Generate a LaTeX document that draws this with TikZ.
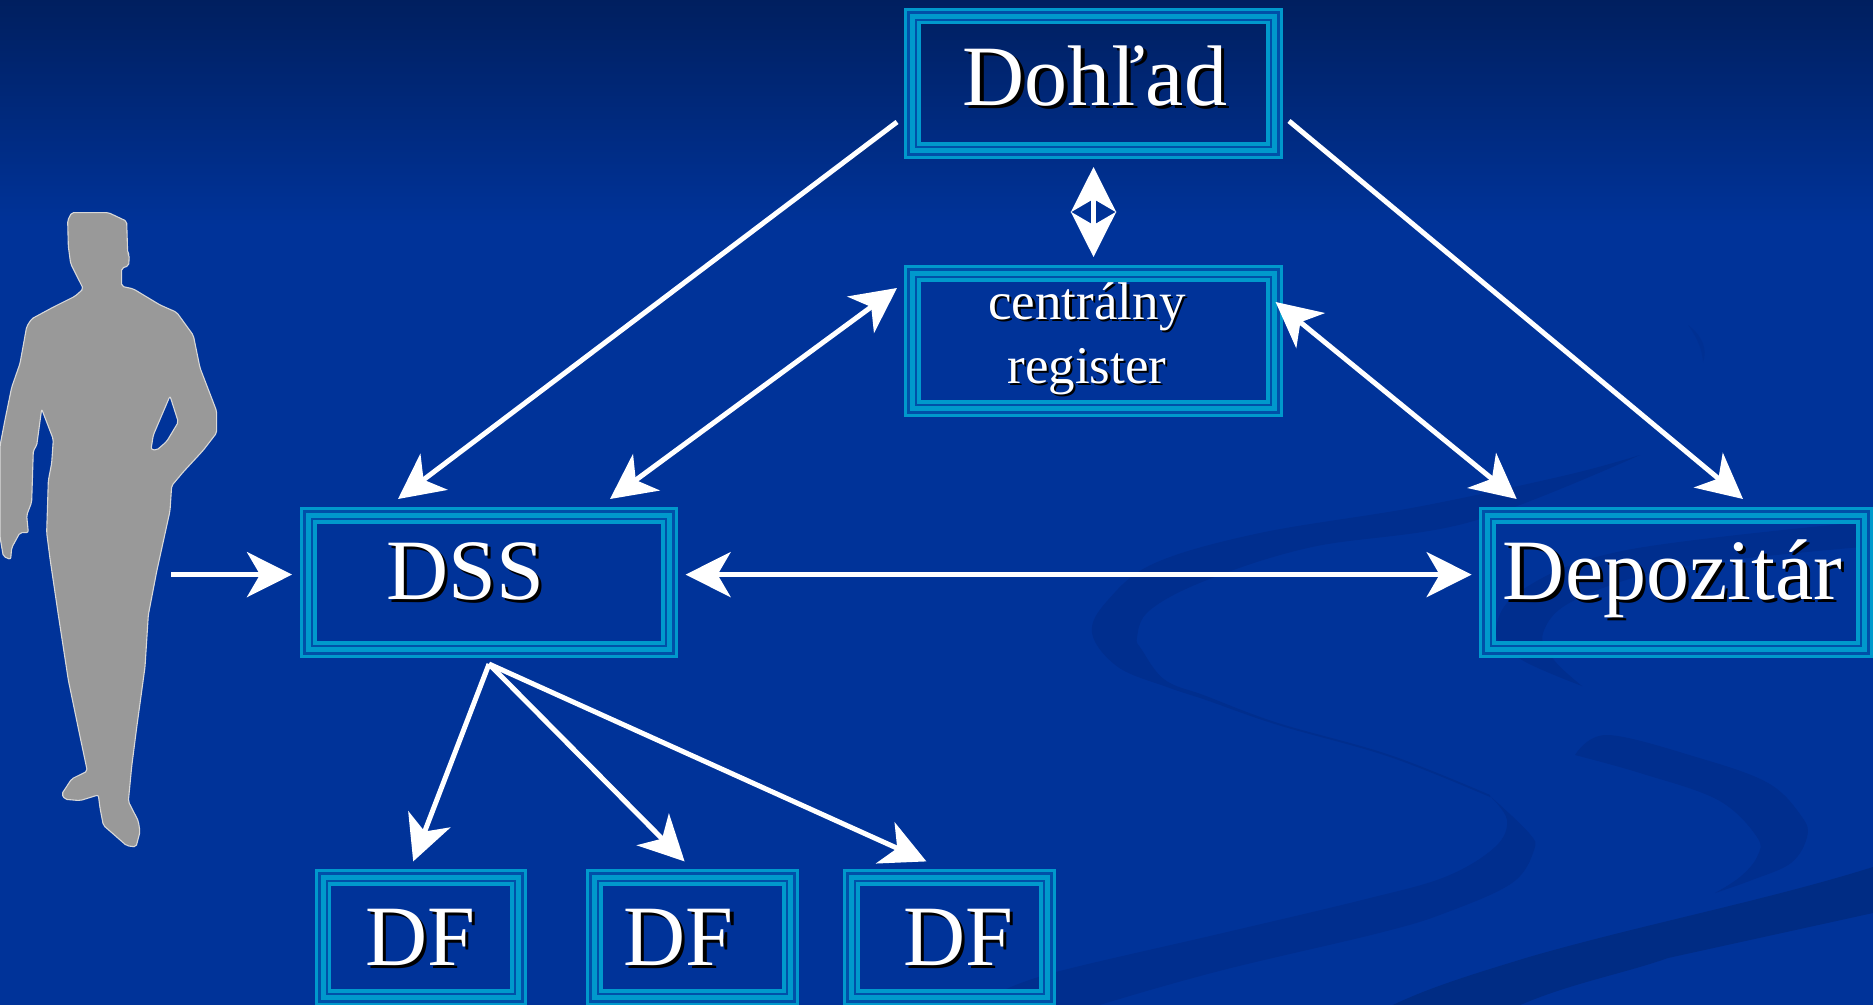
\documentclass[tikz,border=0pt]{standalone}
\usepackage{fontspec}
\setmainfont{Liberation Serif}
\usetikzlibrary{arrows.meta}
\definecolor{bgblue}{HTML}{003399}
\definecolor{bgtop}{HTML}{001F5F}
\definecolor{swoosh}{HTML}{002E8E}
\definecolor{swooshdark}{HTML}{002C84}
\definecolor{framecyan}{HTML}{0099CC}
\definecolor{framegap}{HTML}{0050A8}
\definecolor{persongrey}{HTML}{999999}
\definecolor{personedge}{HTML}{D8D8D8}
\newcommand\shtext[1]{\makebox[0pt][l]{\hspace{.04em}\raisebox{-.04em}{\textcolor{black}{#1}}}#1}
\newcommand\tribox[5]{%
  \node[boxnode,minimum width=#4pt,minimum height=#5pt] (#1) at (#2,#3) {};
  \draw[framegap,line width=16pt] ([xshift=8pt,yshift=8pt]#1.south west) rectangle ([xshift=-8pt,yshift=-8pt]#1.north east);
  \draw[framecyan,line width=3pt] ([xshift=1.5pt,yshift=1.5pt]#1.south west) rectangle ([xshift=-1.5pt,yshift=-1.5pt]#1.north east);
  \draw[framecyan,line width=5pt] ([xshift=8.5pt,yshift=8.5pt]#1.south west) rectangle ([xshift=-8.5pt,yshift=-8.5pt]#1.north east);
  \draw[framecyan,line width=3.4pt] ([xshift=15pt,yshift=15pt]#1.south west) rectangle ([xshift=-15pt,yshift=-15pt]#1.north east);
}
\tikzset{
  boxnode/.style={rectangle,draw=none,inner sep=0pt,outer sep=0pt},
  bigtext/.style={text=white,inner sep=0pt,anchor=base,font=\fontsize{86}{90}\selectfont},
  smalltext/.style={text=white,inner sep=0pt,align=center,font=\fontsize{53}{64}\selectfont},
  head/.tip={Stealth[length=45pt,width=45pt,inset=13pt]},
  conn/.style={draw=white,line width=5pt,-head},
  biconn/.style={draw=white,line width=5pt,head-head},
  swooshfill/.style={fill=swoosh,draw=none},
  person/.style={fill=persongrey,draw=personedge,line width=1.1pt,line join=round,even odd rule,rounded corners=2pt}
}
\begin{document}
\begin{tikzpicture}[x=1pt,y=-1pt]
\useasboundingbox (0,0) rectangle (1873,1004);
\clip (-5,-5) rectangle (1878,1012);
% background
\fill[bgblue] (-5,-5) rectangle (1878,1012);
\shade[top color=bgtop,bottom color=bgblue,draw=none] (-5,0) rectangle (1878,225);
% swooshes
\fill[swooshfill] plot[smooth,tension=.6] coordinates {(1640,455) (1567,475) (1417,507) (1260,533) (1155,563) (1108,600) (1092,633) (1118,667) (1167,687) (1206,700) (1278,725) (1390,757) (1490,797)}
  -- plot[smooth,tension=.6] coordinates {(1490,795) (1390,755) (1278,723) (1206,696) (1165,680) (1142,650) (1137,637) (1150,610) (1207,580) (1312,547) (1470,522) (1640,455)} -- cycle;
\fill[swooshfill] plot[smooth,tension=.6] coordinates {(1490,796) (1529,833) (1534,850) (1512,883) (1445,913) (1379,933) (1223,970) (1106,1003) (1070,1016)}
  -- plot[smooth,tension=.6] coordinates {(1000,992) (1056,972) (1223,933) (1362,900) (1445,877) (1495,847) (1507,820) (1490,796)} -- cycle;
\fill[swooshfill] plot[smooth,tension=.6] coordinates {(1873,521) (1627,550) (1522,590) (1496,633) (1522,660) (1582,686)}
  -- plot[smooth,tension=.6] coordinates {(1582,686) (1554,660) (1543,633) (1575,600) (1680,567) (1873,546)} -- cycle;
\fill[swooshfill] plot[smooth,tension=.6] coordinates {(1575,755) (1607,735) (1696,757) (1768,783) (1802,817) (1807,837) (1791,863) (1752,880) (1715,893)}
  -- plot[smooth,tension=.6] coordinates {(1715,893) (1740,877) (1757,857) (1757,837) (1718,800) (1640,773) (1575,755)} -- cycle;
\fill[swooshdark] (1873,867) .. controls (1768,900) and (1640,925) .. (1529,957) .. controls (1470,975) and (1420,990) .. (1379,1012) -- (1505,1012) .. controls (1560,985) and (1620,975) .. (1668,958) -- (1873,913) -- cycle;
\fill[swooshfill,opacity=.5] (1688,325) .. controls (1702,335) and (1708,350) .. (1703,362) .. controls (1702,348) and (1696,336) .. (1688,325) -- cycle;
% person
\begin{scope}[yshift=-190pt,x=.33333pt,y=-.43365pt]
\draw[person] (215,52) -- (325,52) -- (380,72) -- (383,145) -- (388,150) -- (386,175) -- (365,180) -- (365,222) -- (400,228) -- (480,265) -- (530,282) -- (580,335) -- (600,410) -- (650,510) -- (650,560) -- (610,600) -- (550,650) -- (515,682) -- (510,740) -- (470,880) -- (445,980) -- (435,1100) -- (410,1240) -- (395,1330) -- (385,1410) -- (415,1455) -- (420,1480) -- (408,1515) -- (380,1512) -- (310,1465) -- (300,1425) -- (295,1395) -- (240,1408) -- (195,1405) -- (185,1393) -- (215,1358) -- (262,1340) -- (240,1260) -- (205,1130) -- (175,980) -- (150,850) -- (140,790) -- (145,670) -- (155,630) -- (160,575) -- (125,505) -- (110,590) -- (100,600) -- (95,720) -- (80,750) -- (85,790) -- (60,790) -- (35,825) -- (32,852) -- (10,845) -- (0,800) -- (0,590) -- (15,530) -- (35,455) -- (60,400) -- (80,315) -- (95,297) -- (160,270) -- (225,245) -- (250,228) -- (212,170) -- (205,130) -- (203,70) -- cycle
  (510,475) -- (535,535) -- (500,580) -- (470,600) -- (453,598) -- (460,565) -- cycle;
\end{scope}
% boxes
\tribox{dohlad}{1093.5}{83.25}{379}{151.5}
\tribox{register}{1093.5}{341}{379}{152}
\tribox{dss}{489}{582.5}{378}{151}
\tribox{depozitar}{1676}{582.5}{394}{151}
\tribox{dfa}{420.9}{937.5}{212.4}{137}
\tribox{dfb}{692.5}{937.5}{213}{137}
\tribox{dfc}{949.5}{937.5}{213}{137}
% texts
\node[bigtext] (tdohlad) at (1095,105) {\shtext{Dohľad}};
\node[smalltext] (tregister) at (1087,339.5) {\shtext{centrálny}\\\shtext{register}};
\node[bigtext] (tdss) at (465,599) {\shtext{DSS}};
\node[bigtext] (tdepozitar) at (1672.5,599) {\shtext{Depozitár}};
\node[bigtext] (tdfa) at (420,965) {\shtext{DF}};
\node[bigtext] (tdfb) at (678.5,965) {\shtext{DF}};
\node[bigtext] (tdfc) at (958,965) {\shtext{DF}};
% connectors
\coordinate (hand) at (171,574.6);
\draw[conn] ([xshift=-7pt,yshift=-38.75pt]dohlad.west) -- ([xshift=-91pt,yshift=8pt]dss.north);
\draw[conn] ([xshift=6pt,yshift=-37.75pt]dohlad.east) -- ([xshift=67pt,yshift=8pt]depozitar.north);
\draw[biconn] ([xshift=121pt,yshift=8pt]dss.north) -- ([xshift=-7pt,yshift=53pt]register.west);
\draw[biconn] ([xshift=-7.4pt,yshift=39pt]register.east) -- ([xshift=-159.3pt,yshift=8pt]depozitar.north);
\draw[biconn] ([xshift=7.6pt,yshift=7.9pt]dss.east) -- ([xshift=-7.4pt,yshift=7.9pt]depozitar.west);
\draw[conn] (hand) -- ([xshift=-8pt,yshift=7.9pt]dss.west);
\draw[biconn] ([yshift=-8pt]dohlad.south) -- ([yshift=8pt]register.north);
\draw[conn] ([yshift=-6pt]dss.south) -- ([xshift=-7.7pt,yshift=7.6pt]dfa.north);
\draw[conn] ([yshift=-6pt]dss.south) -- ([xshift=-7.9pt,yshift=7.6pt]dfb.north);
\draw[conn] ([yshift=-6pt]dss.south) -- ([xshift=-23.1pt,yshift=7.6pt]dfc.north);
\end{tikzpicture}
\end{document}
